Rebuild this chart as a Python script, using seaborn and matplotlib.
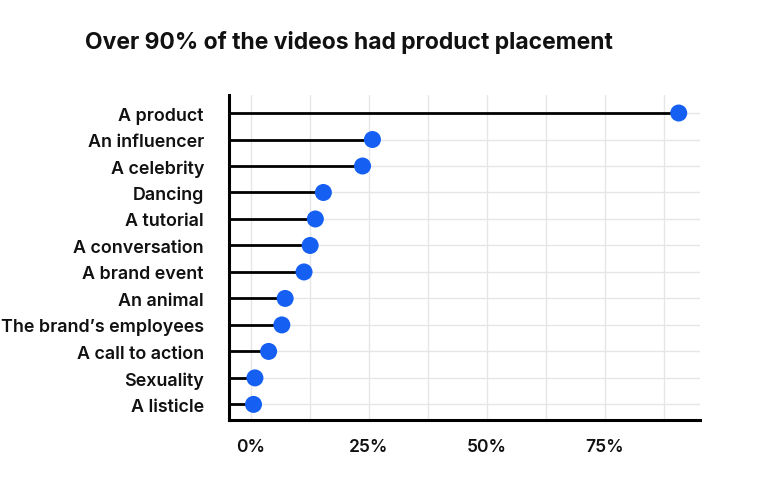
import matplotlib
matplotlib.use("Agg")
import matplotlib.pyplot as plt
from matplotlib.ticker import MultipleLocator, PercentFormatter
import seaborn as sns
import pandas as pd

categories = ["A product", "An influencer", "A celebrity", "Dancing", "A tutorial",
              "A conversation", "A brand event", "An animal", "The brand\u2019s employees",
              "A call to action", "Sexuality", "A listicle"]
values = [90.7, 25.8, 23.7, 15.4, 13.7, 12.6, 11.3, 7.3, 6.6, 3.8, 0.9, 0.6]
title = "Over 90% of the videos had product placement"

df = pd.DataFrame({"category": categories, "value": values})

sns.set_theme(style="white")
plt.rcParams["font.family"] = ["Inter", "DejaVu Sans"]

fig = plt.figure(figsize=(7.72, 4.81), dpi=100)
ax = fig.add_axes([0.2966, 0.1247, 0.6101, 0.6757])

XMIN, XMAX = -4.6, 95.2
ax.set_xlim(XMIN, XMAX)

ax.hlines(y=df["category"], xmin=XMIN, xmax=df["value"], color="black", lw=2, zorder=2)
sns.scatterplot(data=df, x="value", y="category", ax=ax, s=150, color="#1560F2",
                edgecolor="none", zorder=3, legend=False)

ax.set_ylim(len(categories) - 1 + 0.59, -0.68)
ax.xaxis.set_major_locator(MultipleLocator(25))
ax.xaxis.set_minor_locator(MultipleLocator(12.5))
ax.xaxis.set_major_formatter(PercentFormatter(decimals=0))
ax.set_xticks([0, 25, 50, 75])

ax.grid(True, which="both", axis="x", color="#e6e6e6", lw=1, zorder=0)
ax.grid(True, which="major", axis="y", color="#e6e6e6", lw=1, zorder=0)
ax.set_axisbelow(True)

for s in ["top", "right"]:
    ax.spines[s].set_visible(False)
for s in ["left", "bottom"]:
    ax.spines[s].set_color("black")
    ax.spines[s].set_linewidth(2.2)

ax.tick_params(axis="y", length=0, pad=18, labelsize=12.9)
ax.tick_params(axis="x", which="both", length=0, pad=13, labelsize=12.5)
for lab in ax.get_xticklabels() + ax.get_yticklabels():
    lab.set_fontweight("semibold")
    lab.set_color("#111111")
ax.set_xlabel("")
ax.set_ylabel("")

fig.text(85 / 772, 1 - 43 / 481, title, fontsize=16.5, fontweight="bold",
         color="#111111", ha="left", va="center")

fig.savefig("out.png", dpi=100)
